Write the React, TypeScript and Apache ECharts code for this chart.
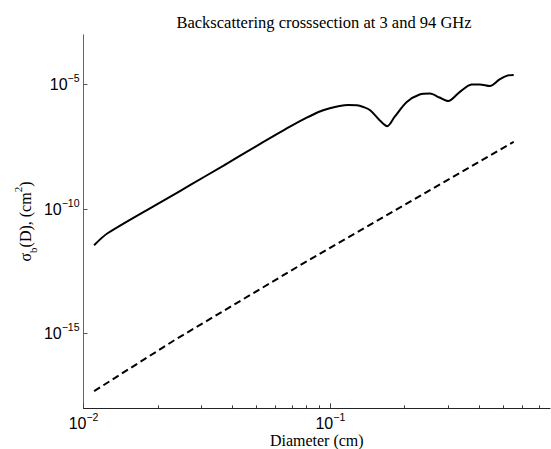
import React, { useEffect, useRef } from "react";
import * as echarts from "echarts";

// Diameter (cm) and backscattering cross-section (cm^2)
const solidDiameter = [
  0.01104, 0.01256, 0.0224, 0.027, 0.0368, 0.0502, 0.0686, 0.0802, 0.0906, 0.0995,
  0.109, 0.118, 0.128, 0.136, 0.145, 0.158, 0.17, 0.182, 0.204, 0.23,
  0.253, 0.277, 0.3, 0.334, 0.373, 0.403, 0.443, 0.485, 0.525, 0.553,
];
const solidSigma = [
  3.55e-12, 1.1e-11, 3.1e-10, 9.1e-10, 5.5e-9, 3.4e-8, 2.04e-7, 4.68e-7, 8.32e-7, 1.12e-6,
  1.38e-6, 1.51e-6, 1.48e-6, 1.26e-6, 9.3e-7, 3.8e-7, 2.14e-7, 5.01e-7, 2.0e-6, 3.98e-6,
  4.37e-6, 3.02e-6, 2.19e-6, 5.01e-6, 1.0e-5, 1.02e-5, 8.71e-6, 1.62e-5, 2.34e-5, 2.45e-5,
];
const dashedDiameter = [0.01104, 0.0234, 0.0753, 0.553];
const dashedSigma = [4.9e-18, 5.5e-16, 5.5e-13, 5.0e-8];

const xMajorTicks = [0.01, 0.1];
const xMinorTicks = [
  0.02, 0.03, 0.04, 0.05, 0.06, 0.07, 0.08, 0.09,
  0.2, 0.3, 0.4, 0.5, 0.6, 0.7,
];
const yTicks = [1e-15, 1e-10, 1e-5];
const xRange = [0.01, 0.776];
const yRange = [1e-18, 1e-3];

const titleText = "Backscattering crosssection at 3 and 94 GHz";
const xName = "Diameter (cm)";

const lg = (v: number) => Math.log10(v);
const powLabel = (v: number) => {
  const e = Math.round(v);
  const s = e < 0 ? "\u2212" + Math.abs(e) : String(e);
  return `{b|10}{e|${s}}`;
};

const tickRich = {
  b: { fontFamily: "Liberation Sans", fontSize: 16, color: "#000", lineHeight: 24 },
  e: { fontFamily: "Liberation Sans", fontSize: 10.5, color: "#000", lineHeight: 11, verticalAlign: "top" },
};

export default function App() {
  const ref = useRef<HTMLDivElement>(null);
  useEffect(() => {
    if (!ref.current) return;
    const chart = echarts.init(ref.current, undefined, { renderer: "svg" });
    const xMin = lg(xRange[0]);
    const xMax = lg(xRange[1]);
    chart.setOption({
      animation: false,
      backgroundColor: "#fff",
      title: {
        text: titleText,
        left: 319,
        textAlign: "center",
        top: 9,
        textStyle: { fontFamily: "Liberation Serif", fontWeight: "normal", fontSize: 16.5, color: "#000" },
      },
      grid: {
        left: 83.5,
        right: 1,
        top: 34.8,
        bottom: 40.7,
        containLabel: false,
        outerBoundsMode: "none",
      },
      xAxis: [
        {
          type: "value",
          min: xMin,
          max: xMax,
          name: xName,
          nameLocation: "middle",
          nameGap: 24,
          nameMoveOverlap: false,
          nameTextStyle: {
            fontFamily: "Liberation Serif",
            fontSize: 16,
            lineHeight: 16,
            color: "#000",
            verticalAlign: "top",
          },
          axisLine: { show: true, lineStyle: { color: "#222", width: 1 } },
          axisTick: { show: true, inside: true, length: 5, customValues: xMajorTicks.map(lg), lineStyle: { color: "#444" } },
          axisLabel: {
            show: true,
            customValues: xMajorTicks.map(lg),
            margin: 3,
            fontFamily: "Liberation Sans",
            fontSize: 16,
            color: "#000",
            formatter: (v: number) => powLabel(v),
            rich: tickRich,
          },
          splitLine: { show: false },
        },
        {
          type: "value",
          min: xMin,
          max: xMax,
          position: "bottom",
          axisLine: { show: false },
          axisTick: { show: true, inside: true, length: 3, customValues: xMinorTicks.map(lg), lineStyle: { color: "#444" } },
          axisLabel: { show: false },
          splitLine: { show: false },
        },
      ],
      yAxis: {
        type: "value",
        min: lg(yRange[0]),
        max: lg(yRange[1]),
        name: "{t|\u03c3}{sub|b}{t|(D), (cm}{sup|2}{t|)}",
        nameLocation: "middle",
        nameGap: 45,
        nameMoveOverlap: false,
        nameTextStyle: {
          fontFamily: "Liberation Serif",
          fontSize: 16,
          color: "#000",
          rich: {
            t: { fontFamily: "Liberation Serif", fontSize: 16, color: "#000", lineHeight: 26 },
            sub: { fontFamily: "Liberation Serif", fontSize: 11, color: "#000", lineHeight: 14, verticalAlign: "bottom" },
            sup: { fontFamily: "Liberation Serif", fontSize: 11, color: "#000", lineHeight: 10, verticalAlign: "top" },
          },
        },
        axisLine: { show: true, lineStyle: { color: "#666", width: 1 } },
        axisTick: { show: true, inside: true, length: 4, customValues: yTicks.map(lg), lineStyle: { color: "#555" } },
        axisLabel: {
          show: true,
          customValues: yTicks.map(lg),
          margin: 4,
          fontFamily: "Liberation Sans",
          fontSize: 16,
          color: "#000",
          formatter: (v: number) => powLabel(v),
          rich: tickRich,
        },
        splitLine: { show: false },
      },
      series: [
        {
          type: "line",
          name: "3 GHz",
          data: solidDiameter.map((d, i) => [lg(d), lg(solidSigma[i])]),
          showSymbol: false,
          smooth: 0.3,
          lineStyle: { color: "#000", width: 2 },
          xAxisIndex: 0,
        },
        {
          type: "line",
          name: "94 GHz",
          data: dashedDiameter.map((d, i) => [lg(d), lg(dashedSigma[i])]),
          showSymbol: false,
          lineStyle: { color: "#000", width: 2, type: [7, 4] },
          xAxisIndex: 0,
        },
      ],
    });
    return () => chart.dispose();
  }, []);
  return (
    <div
      ref={ref}
      style={{ position: "absolute", left: 0, top: 0, width: 551, height: 449, background: "#fff" }}
    />
  );
}
